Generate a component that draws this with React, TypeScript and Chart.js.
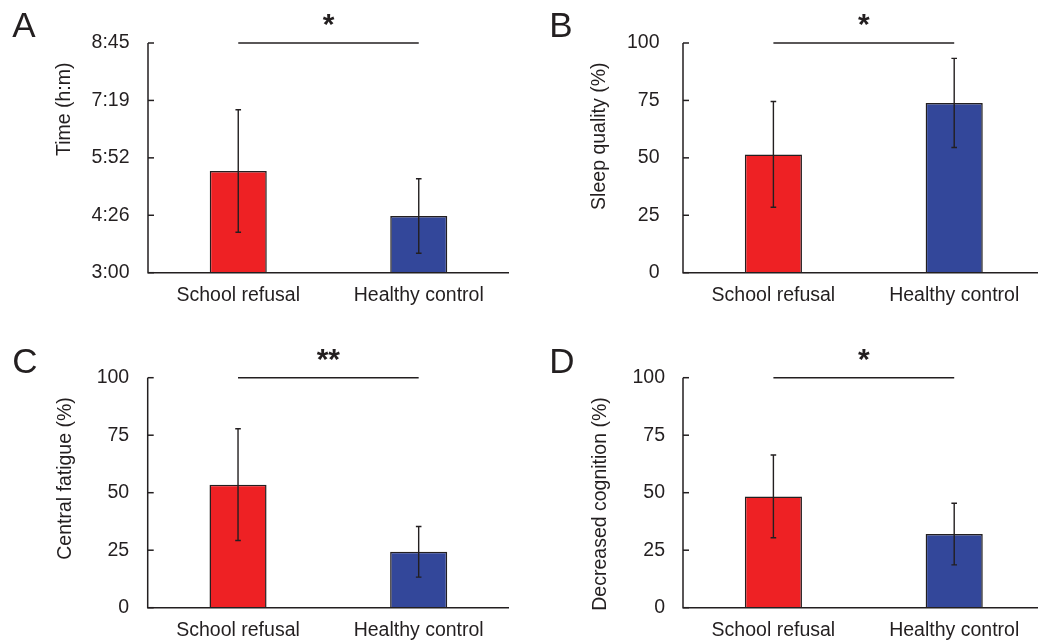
import React, { useEffect, useRef } from "react";
import { Chart, registerables } from "chart.js";

Chart.register(...registerables);

// ---------- data ----------
const categories = ["School refusal", "Healthy control"];
const barColors = ["#ee2124", "#33479a"];

// Panel A: time in minutes since 0:00
const timeMeans = [332.7, 265.2];
const timeErrors = [92, 56];
const timeTickValues = [180, 266.25, 352.5, 438.75, 525];
const timeTickLabels = ["3:00", "4:26", "5:52", "7:19", "8:45"];

// Panel B
const sleepMeans = [51.5, 73.9];
const sleepErrors = [23, 19.4];

// Panel C
const fatigueMeans = [53.5, 24.3];
const fatigueErrors = [24.3, 11];

// Panel D
const cognitionMeans = [48.4, 32.0];
const cognitionErrors = [18, 13.4];

const percentTickValues = [0, 25, 50, 75, 100];
const percentTickLabels = ["0", "25", "50", "75", "100"];

const panelLetters = ["A", "B", "C", "D"];
const yTitles = ["Time (h:m)", "Sleep quality (%)", "Central fatigue (%)", "Decreased cognition (%)"];
const significanceMarks = ["*", "*", "**", "*"];

// ---------- styling ----------
const FONT = '"Liberation Sans", Arial, Helvetica, sans-serif';
const INK = "#231f20";

type Layout = {
  x: number; y: number; w: number; h: number;
  left: number; top: number; right: number; bottom: number;
  tickPad: number;
  letterX: number; letterY: number;
  titleX: number;
  starY: number;
};

const layouts: Layout[] = [
  { x: 0, y: 0, w: 519, h: 320, left: 148, top: 43, right: 509, bottom: 272.7, tickPad: 18.5, letterX: 12.3, letterY: 37.3, titleX: 65, starY: 20 },
  { x: 519, y: 0, w: 530, h: 320, left: 164, top: 43, right: 525.6, bottom: 272.7, tickPad: 23.5, letterX: 30.3, letterY: 37.3, titleX: 81, starY: 20 },
  { x: 0, y: 320, w: 519, h: 323, left: 147.7, top: 57.7, right: 509, bottom: 287.7, tickPad: 18.5, letterX: 12.3, letterY: 53.3, titleX: 65.5, starY: 35 },
  { x: 519, y: 320, w: 530, h: 323, left: 164, top: 57.7, right: 525.6, bottom: 287.7, tickPad: 18, letterX: 30.3, letterY: 53.3, titleX: 82, starY: 35 },
];

type PanelData = {
  means: number[];
  errors: number[];
  tickValues: number[];
  tickLabels: string[];
  min: number;
  max: number;
};

const panelData: PanelData[] = [
  { means: timeMeans, errors: timeErrors, tickValues: timeTickValues, tickLabels: timeTickLabels, min: 180, max: 525 },
  { means: sleepMeans, errors: sleepErrors, tickValues: percentTickValues, tickLabels: percentTickLabels, min: 0, max: 100 },
  { means: fatigueMeans, errors: fatigueErrors, tickValues: percentTickValues, tickLabels: percentTickLabels, min: 0, max: 100 },
  { means: cognitionMeans, errors: cognitionErrors, tickValues: percentTickValues, tickLabels: percentTickLabels, min: 0, max: 100 },
];

const decorPlugin = {
  id: "decor",
  afterDatasetsDraw(chart: any, _args: any, opts: any) {
    const ctx: CanvasRenderingContext2D = chart.ctx;
    const area = chart.chartArea;
    const ys = chart.scales.y;
    const meta = chart.getDatasetMeta(0);
    const d: PanelData = opts.data;
    const L: Layout = opts.layout;
    ctx.save();

    // error bars
    ctx.strokeStyle = INK;
    ctx.lineWidth = 1.4;
    d.means.forEach((m, i) => {
      const x = meta.data[i].x;
      const yTop = ys.getPixelForValue(m + d.errors[i]);
      const yBot = ys.getPixelForValue(m - d.errors[i]);
      ctx.beginPath();
      ctx.moveTo(x, yTop);
      ctx.lineTo(x, yBot);
      ctx.moveTo(x - 2.8, yTop);
      ctx.lineTo(x + 2.8, yTop);
      ctx.moveTo(x - 2.8, yBot);
      ctx.lineTo(x + 2.8, yBot);
      ctx.stroke();
    });

    // axes
    ctx.lineWidth = 1.5;
    ctx.beginPath();
    ctx.moveTo(area.left, area.top);
    ctx.lineTo(area.left, area.bottom);
    ctx.lineTo(area.right, area.bottom);
    ctx.stroke();
    d.tickValues.forEach((v) => {
      const y = ys.getPixelForValue(v);
      ctx.beginPath();
      ctx.moveTo(area.left, y);
      ctx.lineTo(area.left + 6, y);
      ctx.stroke();
    });

    // significance line
    const x0 = meta.data[0].x;
    const x1 = meta.data[1].x;
    ctx.lineWidth = 1.5;
    ctx.beginPath();
    ctx.moveTo(x0, area.top);
    ctx.lineTo(x1, area.top);
    ctx.stroke();

    ctx.fillStyle = INK;
    ctx.font = `bold 30px ${FONT}`;
    ctx.textAlign = "center";
    ctx.textBaseline = "middle";
    ctx.fillText(opts.star, (x0 + x1) / 2, L.starY + 6);

    // y title
    ctx.save();
    ctx.translate(L.titleX, area.top + 19.5);
    ctx.rotate(-Math.PI / 2);
    ctx.font = `19.5px ${FONT}`;
    ctx.textAlign = "right";
    ctx.textBaseline = "middle";
    ctx.fillText(opts.title, 0, 0);
    ctx.restore();

    // panel letter
    ctx.font = `35px ${FONT}`;
    ctx.textAlign = "left";
    ctx.textBaseline = "alphabetic";
    ctx.fillText(opts.letter, L.letterX, L.letterY);

    ctx.restore();
  },
};

function Panel({ index }: { index: number }) {
  const ref = useRef<HTMLCanvasElement>(null);
  const L = layouts[index];
  const d = panelData[index];
  useEffect(() => {
    const chart = new Chart(ref.current as HTMLCanvasElement, {
      type: "bar",
      data: {
        labels: categories,
        datasets: [
          {
            data: d.means,
            backgroundColor: barColors,
            borderColor: INK,
            borderWidth: 1.5,
            borderSkipped: "bottom",
            barPercentage: 0.316,
            categoryPercentage: 1,
          },
        ],
      },
      options: {
        responsive: false,
        animation: false,
        devicePixelRatio: 1,
        layout: { padding: { left: 0, top: L.top, right: L.w - L.right, bottom: 0 } },
        plugins: {
          legend: { display: false },
          tooltip: { enabled: false },
          decor: { data: d, layout: L, star: significanceMarks[index], title: yTitles[index], letter: panelLetters[index] },
        } as any,
        scales: {
          x: {
            type: "category",
            offset: true,
            grid: { display: false, drawTicks: false },
            border: { display: false },
            ticks: { color: INK, font: { family: FONT, size: 19.5 }, padding: 11, maxRotation: 0, autoSkip: false },
            afterFit: (s: any) => { s.height = L.h - L.bottom; },
          },
          y: {
            type: "linear",
            min: d.min,
            max: d.max,
            grid: { display: false, drawTicks: false },
            border: { display: false },
            afterBuildTicks: (s: any) => { s.ticks = d.tickValues.map((v) => ({ value: v })); },
            ticks: {
              color: INK,
              font: { family: FONT, size: 19.5 },
              padding: L.tickPad,
              callback: (_v: any, i: number) => d.tickLabels[i],
            },
            afterFit: (s: any) => { s.width = L.left; },
          },
        },
      } as any,
      plugins: [decorPlugin],
    });
    return () => chart.destroy();
  }, []);
  return (
    <canvas
      ref={ref}
      width={L.w}
      height={L.h}
      style={{ position: "absolute", left: L.x, top: L.y, width: L.w, height: L.h, display: "block" }}
    />
  );
}

export default function App() {
  return (
    <div style={{ position: "fixed", left: 0, top: 0, width: 1038, height: 643, overflow: "hidden", background: "#fff" }}>
      {[0, 1, 2, 3].map((i) => (
        <Panel key={i} index={i} />
      ))}
    </div>
  );
}
